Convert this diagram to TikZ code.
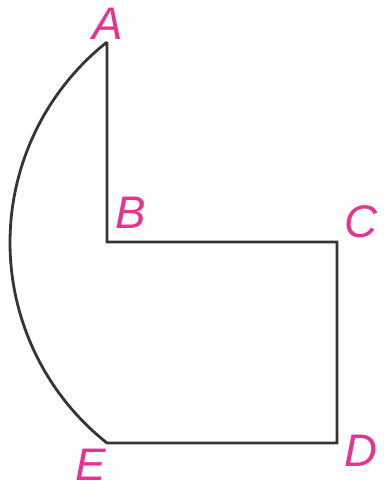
\documentclass[tikz,border=0pt]{standalone}
\usepackage{fontspec}
\setmainfont{Liberation Sans}
\usetikzlibrary{positioning}

\begin{document}
\begin{tikzpicture}[
    x=0.02cm, y=0.02cm,
    edge/.style={
        draw=edge_color,
        line width=1.6pt,
        line join=miter
    },
    ptlabel/.style={
        font=\fontsize{26}{30}\selectfont\itshape\color{label_color},
        inner sep=0pt
    }
]

% Colors
\definecolor{edge_color}{HTML}{353535}
\definecolor{label_color}{HTML}{E6338F}

\useasboundingbox (0,0) rectangle (384,491);

% Vertices
\coordinate (A) at (107,449);
\coordinate (B) at (107,249);
\coordinate (C) at (337,249);
\coordinate (D) at (337,48);
\coordinate (E) at (107,48);

% Outline
\draw[edge] (A) -- (B) -- (C) -- (D) -- (E)
    arc[start angle=231.64, end angle=128.36, radius=5.114cm];

% Labels
\node[ptlabel] (lA) at (108,467) {A};
\node[ptlabel] (lB) at (131,278) {B};
\node[ptlabel] (lC) at (361,269) {C};
\node[ptlabel] (lD) at (361,40) {D};
\node[ptlabel] (lE) at (91,26) {E};

\end{tikzpicture}
\end{document}
